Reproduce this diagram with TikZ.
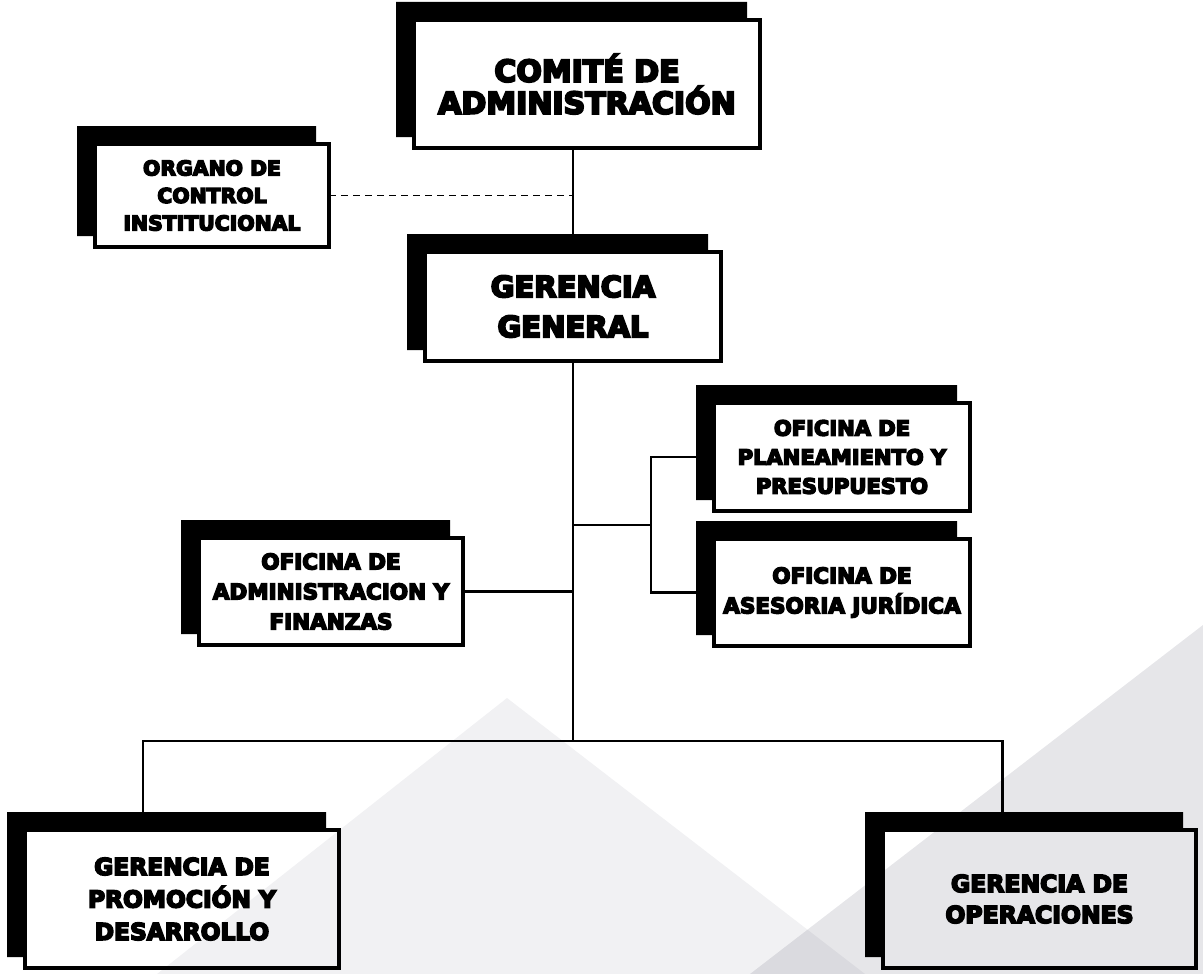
\documentclass[tikz,border=0pt]{standalone}
\usepackage{fontspec}
\newfontfamily\cajafont{DejaVu Sans}[BoldFeatures={FakeBold=7}]
\usetikzlibrary{calc}
\definecolor{fondo}{RGB}{25,25,55}

\begin{document}
\begin{tikzpicture}[x=1pt,y=-1pt,
  caja/.style={draw, line width=4pt, inner sep=0pt, outer sep=0pt, align=center},
  linea/.style={line width=2.2pt}]
\useasboundingbox (0,0) rectangle (1203,974);
% fondo
\fill [fondo, opacity=0.06] (157,974) -- (507,698) -- (865,974) -- cycle;
\fill [fondo, opacity=0.11] (1203,625) -- (1203,974) -- (750,974) -- cycle;
% cajas
\node [caja, minimum width=346pt, minimum height=128pt, font=\cajafont\bfseries\fontsize{30}{32}\selectfont] (comite) at (587,84) {COMITÉ DE\\ADMINISTRACIÓN};
\node [caja, minimum width=234pt, minimum height=103pt, font=\cajafont\bfseries\fontsize{20.4}{27.5}\selectfont] (organo) at (212,195.5) {ORGANO DE\\CONTROL\\INSTITUCIONAL};
\node [caja, minimum width=296pt, minimum height=109pt, font=\cajafont\bfseries\fontsize{29}{40}\selectfont] (gerencia) at (573,306.5) {GERENCIA\\GENERAL};
\node [caja, minimum width=256pt, minimum height=108pt, font=\cajafont\bfseries\fontsize{21}{29}\selectfont] (planea) at (842,457) {OFICINA DE\\PLANEAMIENTO Y\\PRESUPUESTO};
\node [caja, minimum width=256pt, minimum height=107pt, font=\cajafont\bfseries\fontsize{21.5}{30}\selectfont] (asesoria) at (842,592.5) {OFICINA DE\\ASESORIA JURÍDICA};
\node [caja, minimum width=264pt, minimum height=107pt, font=\cajafont\bfseries\fontsize{21.5}{30}\selectfont] (admin) at (331,591.5) {OFICINA DE\\ADMINISTRACION Y\\FINANZAS};
\node [caja, minimum width=314pt, minimum height=138pt, font=\cajafont\bfseries\fontsize{23.3}{32.5}\selectfont] (promocion) at (182,899) {GERENCIA DE\\PROMOCIÓN Y\\DESARROLLO};
\node [caja, minimum width=313pt, minimum height=138pt, font=\cajafont\bfseries\fontsize{23.5}{31}\selectfont] (operaciones) at (1039.5,899) {GERENCIA DE\\OPERACIONES};
% sombras
\foreach \c in {comite,organo,gerencia,planea,asesoria,admin,promocion,operaciones}
  \fill ([shift={(-18,-18)}]\c.north west) -| ([xshift=-13pt]\c.north east) -- (\c.north west) |- ([shift={(-18,-11)}]\c.south west) -- cycle;
% lineas
\coordinate (bus) at (573,741);
\coordinate (rama) at (651,525);
\draw [linea] (comite.south -| gerencia.north) -- (gerencia.north);
\draw [dash pattern=on 7pt off 5pt, line width=1.8pt] (organo.east) -- (organo.east -| gerencia.north);
\draw [linea] (gerencia.south) -- (bus);
\draw [linea] (admin.east) -- (admin.east -| bus);
\draw [linea] (rama -| bus) -- (rama);
\draw [linea] (planea.west) -| (rama) |- (asesoria.west);
\draw [linea] ([xshift=-39pt]promocion.north) |- (bus) -| ([xshift=-37pt]operaciones.north);
\end{tikzpicture}
\end{document}
